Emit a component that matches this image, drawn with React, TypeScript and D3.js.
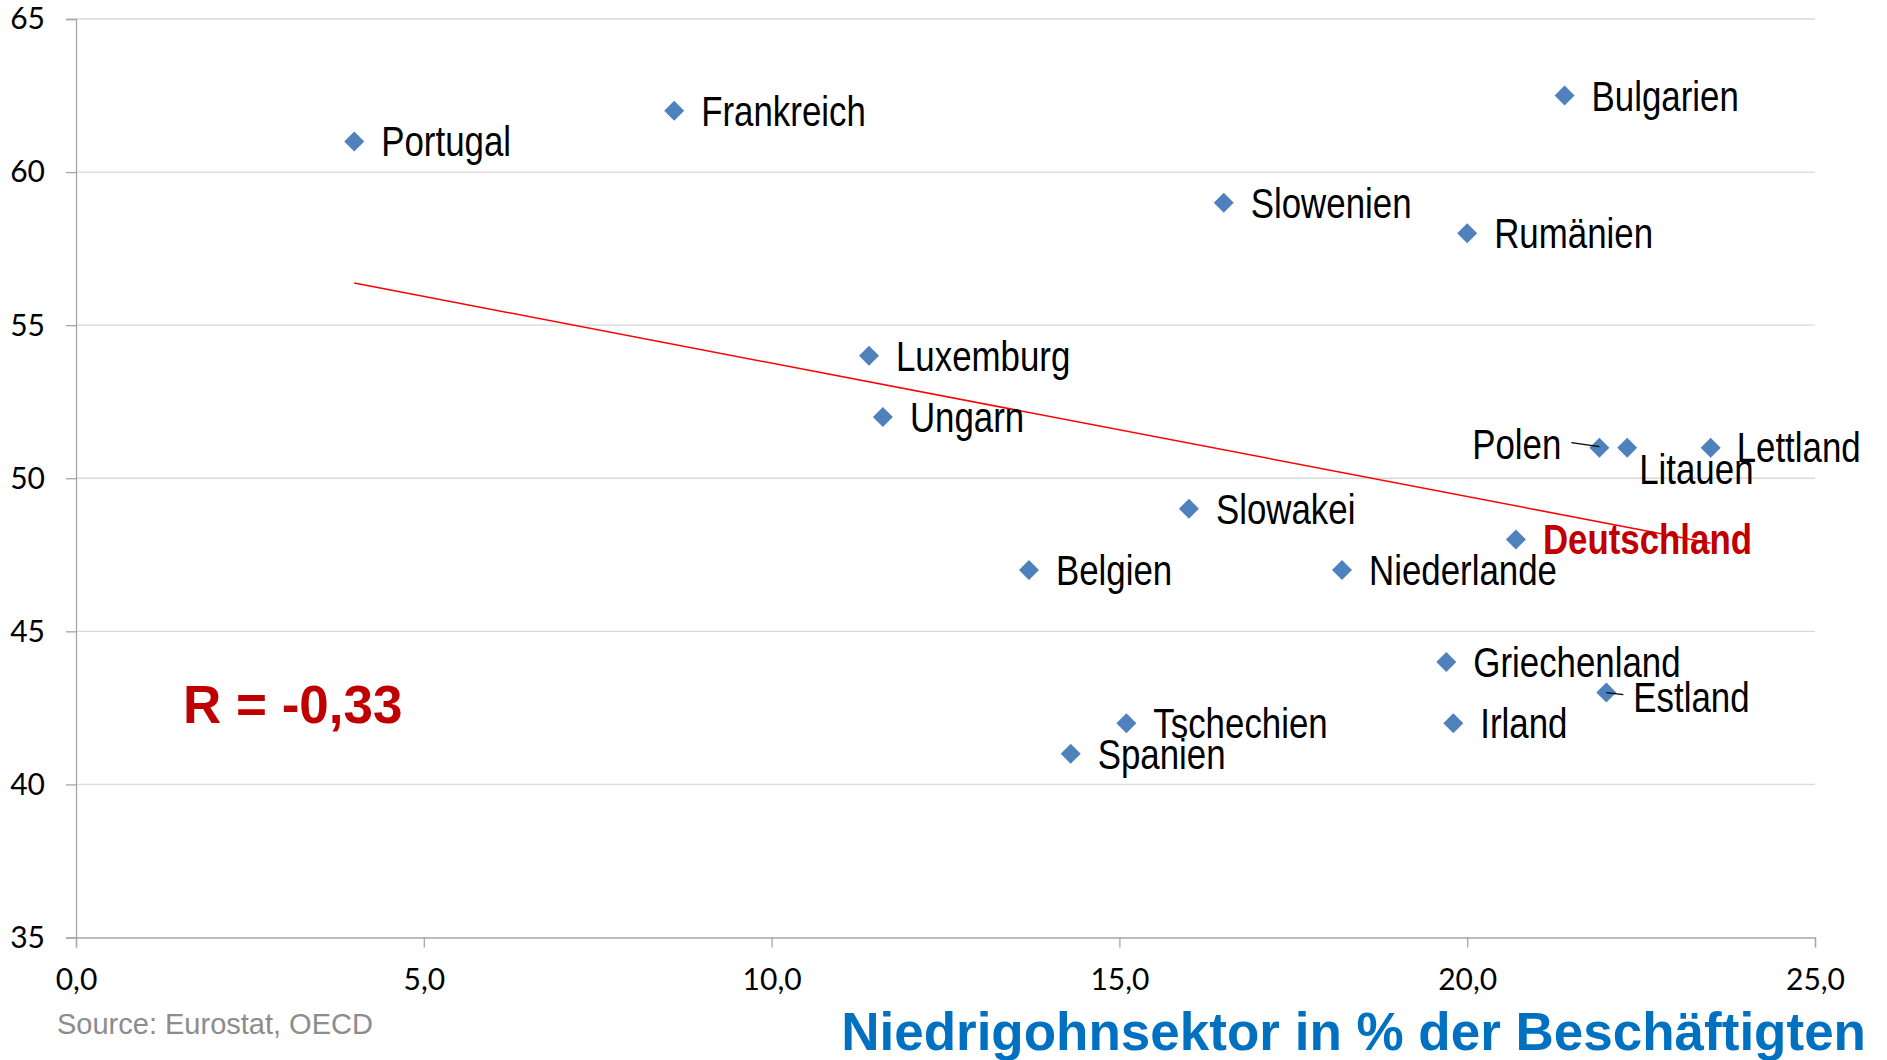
import * as d3 from "d3";
import { useEffect, useRef } from "react";

const countries = [
  "Portugal", "Frankreich", "Bulgarien", "Slowenien", "Rumänien", "Luxemburg", "Ungarn",
  "Polen", "Litauen", "Lettland", "Slowakei", "Deutschland", "Belgien", "Niederlande",
  "Griechenland", "Estland", "Tschechien", "Irland", "Spanien",
];
// Niedriglohnsektor in % der Beschäftigten
const lowWage = [4.0, 8.6, 21.4, 16.5, 20.0, 11.4, 11.6, 21.9, 22.3, 23.5, 16.0, 20.7, 13.7, 18.2, 19.7, 22.0, 15.1, 19.8, 14.3];
// y-Wert
const yValues = [61, 62, 62.5, 59, 58, 54, 52, 51, 51, 51, 49, 48, 47, 47, 44, 43, 42, 42, 41];

const xTicks = [0, 5, 10, 15, 20, 25];
const yTicks = [35, 40, 45, 50, 55, 60, 65];

const highlight = "Deutschland";
const rLabel = "R = -0,33";
const source = "Source: Eurostat, OECD";
const xTitle = "Niedrigohnsektor in % der Beschäftigten";

// label placement relative to the marker (px)
const labelPos: Record<string, { dx: number; dy: number; anchor?: string; leader?: [number, number, number, number] }> = {
  Polen: { dx: -38, dy: 11, anchor: "end", leader: [-28, -5, 0, -1] },
  Litauen: { dx: 12, dy: 36 },
  Lettland: { dx: 26, dy: 14 },
  Estland: { dx: 27, dy: 19, leader: [0, 0, 17, 2] },
};

const W = 1887;
const H = 1060;
// no narrow font installed: squeeze a regular sans horizontally
const labelFont = '"Liberation Sans", Arial, sans-serif';
const narrow = 0.83;
const tickFont = 'Lato, "Open Sans", sans-serif';
const sansFont = '"Liberation Sans", Arial, sans-serif';

export default function App() {
  const ref = useRef<SVGSVGElement | null>(null);

  useEffect(() => {
    if (!ref.current) return;
    const svg = d3.select(ref.current);
    svg.selectAll("*").remove();

    const x = d3.scaleLinear().domain([0, 25]).range([76, 1815]);
    const y = d3.scaleLinear().domain([35, 65]).range([937.5, 19]);

    const pts = countries.map((c, i) => ({ name: c, x: lowWage[i], y: yValues[i] }));

    // grid
    svg.append("g")
      .selectAll("line")
      .data(yTicks.filter((t) => t > 35))
      .join("line")
      .attr("x1", x(0)).attr("x2", x(25))
      .attr("y1", (d) => y(d)).attr("y2", (d) => y(d))
      .attr("stroke", "#d9d9d9").attr("stroke-width", 1.3);

    // y axis
    const gy = svg.append("g").attr("transform", `translate(${x(0)},0)`)
      .call(d3.axisLeft(y).tickValues(yTicks).tickSize(10).tickPadding(21).tickFormat((d) => String(d)));
    gy.selectAll("text").style("font-family", tickFont).style("font-size", "30px").style("fill", "#000").attr("dy", "0.33em");

    // x axis
    const gx = svg.append("g").attr("transform", `translate(0,${y(35)})`)
      .call(d3.axisBottom(x).tickValues(xTicks).tickSize(10).tickPadding(42).tickFormat((d) => d3.format(".1f")(d as number).replace(".", ",")));
    gx.selectAll("text").style("font-family", tickFont).style("font-size", "30px").style("fill", "#000").attr("dy", "0em");

    svg.selectAll(".domain, .tick line").attr("stroke", "#a6a6a6").attr("stroke-width", 1.3);

    // trend line (least squares)
    const mx = d3.mean(pts, (d) => d.x) as number;
    const my = d3.mean(pts, (d) => d.y) as number;
    const sxy = d3.sum(pts, (d) => (d.x - mx) * (d.y - my));
    const sxx = d3.sum(pts, (d) => (d.x - mx) ** 2);
    const slope = sxy / sxx;
    const icpt = my - slope * mx;
    const [x0, x1] = d3.extent(pts, (d) => d.x) as [number, number];
    svg.append("line")
      .attr("x1", x(x0)).attr("y1", y(icpt + slope * x0))
      .attr("x2", x(x1)).attr("y2", y(icpt + slope * x1))
      .attr("stroke", "#ff0000").attr("stroke-width", 1.5);

    // markers
    const sym = d3.symbol().type(d3.symbolSquare).size(200);
    svg.append("g")
      .selectAll("path")
      .data(pts)
      .join("path")
      .attr("d", sym)
      .attr("transform", (d) => `translate(${x(d.x)},${y(d.y)}) rotate(45)`)
      .attr("fill", "#4f81bd");

    // labels
    const lg = svg.append("g");
    pts.forEach((p) => {
      const pos = labelPos[p.name] ?? { dx: 27, dy: 15 };
      const px = x(p.x);
      const py = y(p.y);
      if (pos.leader) {
        const [a, b, c, e] = pos.leader;
        lg.append("line")
          .attr("x1", px + a).attr("y1", py + b)
          .attr("x2", px + c).attr("y2", py + e)
          .attr("stroke", "#000").attr("stroke-width", 1.3);
      }
      const isHi = p.name === highlight;
      lg.append("text")
        .attr("transform", `translate(${px + pos.dx},${py + pos.dy}) scale(${narrow},1)`)
        .attr("text-anchor", pos.anchor ?? "start")
        .style("font-family", labelFont)
        .style("font-size", "42px")
        .style("font-weight", isHi ? "bold" : "normal")
        .style("fill", isHi ? "#c00000" : "#000")
        .text(p.name);
    });

    // R annotation
    svg.append("text")
      .attr("x", 183).attr("y", 723)
      .style("font-family", sansFont).style("font-size", "53px").style("font-weight", "bold")
      .style("fill", "#c00000")
      .text(rLabel);

    // source
    svg.append("text")
      .attr("x", 57).attr("y", 1034)
      .style("font-family", sansFont).style("font-size", "29px")
      .style("fill", "#8c8c8c")
      .text(source);

    // axis title
    svg.append("text")
      .attr("x", 1866).attr("y", 1050)
      .attr("text-anchor", "end")
      .style("font-family", sansFont).style("font-size", "53px").style("font-weight", "bold")
      .style("fill", "#0070c0")
      .text(xTitle);
  }, []);

  return (
    <svg
      ref={ref}
      width={W}
      height={H}
      style={{ position: "absolute", left: 0, top: 0, background: "#fff" }}
      role="img"
      aria-label="Niedriglohnsektor vs. Wert je Land"
    />
  );
}
